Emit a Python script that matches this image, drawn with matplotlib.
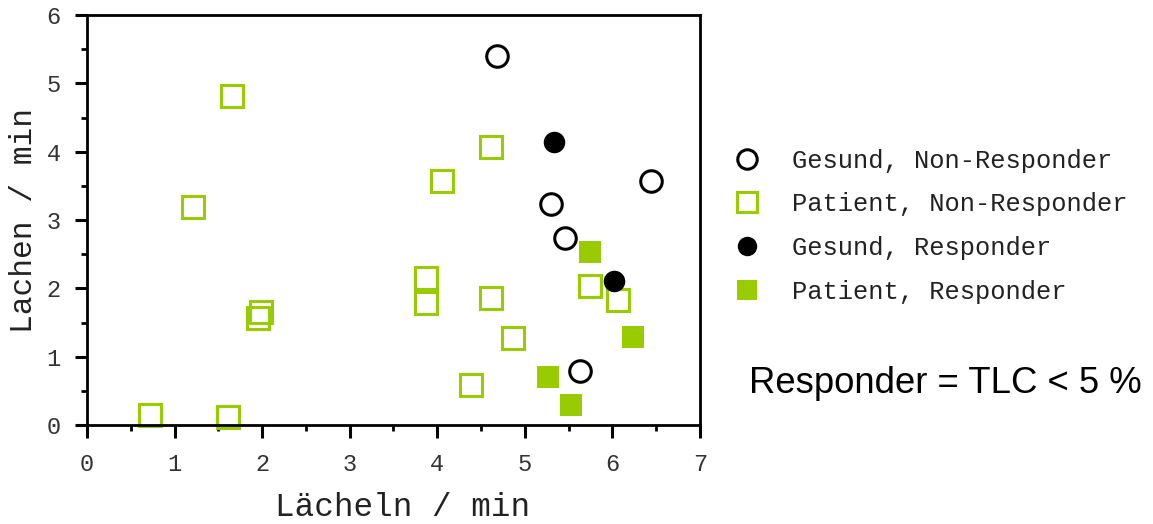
import matplotlib.pyplot as plt
from matplotlib.ticker import MultipleLocator
from matplotlib.lines import Line2D

# Daten
gesund_non_x = [4.68, 5.30, 5.46, 6.44, 5.63]
gesund_non_y = [5.40, 3.24, 2.74, 3.57, 0.79]

patient_non_x = [0.72, 1.61, 1.21, 1.66, 1.95, 1.99, 3.87, 3.87, 4.06, 4.61, 4.61, 4.87, 4.38, 5.75, 6.07]
patient_non_y = [0.15, 0.12, 3.19, 4.82, 1.57, 1.65, 2.15, 1.79, 3.57, 4.07, 1.86, 1.27, 0.59, 2.03, 1.83]

gesund_resp_x = [5.33, 6.02]
gesund_resp_y = [4.14, 2.11]

patient_resp_x = [5.75, 5.26, 5.53, 6.24]
patient_resp_y = [2.53, 0.70, 0.29, 1.29]

labels = ["Gesund, Non-Responder", "Patient, Non-Responder",
          "Gesund, Responder", "Patient, Responder"]

gruen = '#99cc00'
mono = 'Liberation Mono'
textfarbe = '#222222'

fig = plt.figure(figsize=(11.53, 5.24), dpi=100)
ax = fig.add_axes([0.0755, 0.189, 0.5315, 0.782])

ms = 15.5
ax.plot(patient_non_x, patient_non_y, 's', ms=ms, mfc='none', mec=gruen, mew=2.2, clip_on=False)
ax.plot(patient_resp_x, patient_resp_y, 's', ms=ms, mfc=gruen, mec=gruen, mew=0, clip_on=False)
ax.plot(gesund_non_x, gesund_non_y, 'o', ms=ms, mfc='none', mec='black', mew=2.2, clip_on=False)
ax.plot(gesund_resp_x, gesund_resp_y, 'o', ms=ms, mfc='black', mec='black', mew=0, clip_on=False)

ax.set_xlim(0, 7)
ax.set_ylim(0, 6)
ax.xaxis.set_major_locator(MultipleLocator(1))
ax.xaxis.set_minor_locator(MultipleLocator(0.5))
ax.yaxis.set_major_locator(MultipleLocator(1))
ax.yaxis.set_minor_locator(MultipleLocator(0.5))

for s in ax.spines.values():
    s.set_linewidth(2)
ax.tick_params(which='major', direction='out', length=9, width=2.2,
               labelsize=17, labelcolor='#333333')
ax.tick_params(axis='x', which='major', pad=11)
ax.tick_params(axis='y', which='major', pad=10)
ax.tick_params(which='minor', direction='out', length=4.5, width=2)
for lab in ax.get_xticklabels() + ax.get_yticklabels():
    lab.set_family(mono)

ax.set_xlabel("Lächeln / min", fontsize=23.5, family=mono, color=textfarbe)
ax.set_ylabel("Lachen / min", fontsize=22.5, family=mono, color=textfarbe)
ax.xaxis.set_label_coords(0.515, -0.163)
ax.yaxis.set_label_coords(-0.079, 0.5)

handles = [
    Line2D([], [], ls='none', marker='o', ms=14, mfc='none', mec='black', mew=2.2),
    Line2D([], [], ls='none', marker='s', ms=14, mfc='none', mec=gruen, mew=2.2),
    Line2D([], [], ls='none', marker='o', ms=14, mfc='black', mec='black', mew=0),
    Line2D([], [], ls='none', marker='s', ms=14, mfc=gruen, mec=gruen, mew=0),
]
leg = fig.legend(handles, labels, loc='upper left', bbox_to_anchor=(0.615, 0.76),
                 frameon=False, prop={'family': mono, 'size': 18.4},
                 handlelength=1.2, handletextpad=1.15, labelspacing=0.77)
for t in leg.get_texts():
    t.set_color(textfarbe)

fig.text(0.9905, 0.269, "Responder = TLC < 5 %", fontsize=26.3,
         family='Liberation Sans', ha='right', va='center')

fig.savefig('out.png', dpi=100)
